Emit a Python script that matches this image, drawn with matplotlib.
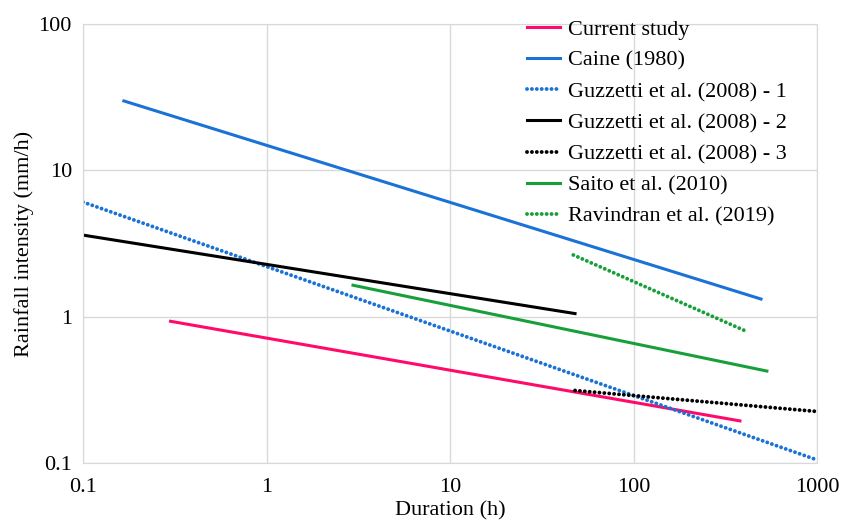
import matplotlib.pyplot as plt
from matplotlib.ticker import FixedLocator, FixedFormatter

# endpoints (duration h, intensity mm/h) of each threshold line
current_d = [0.3, 380]
current_i = [0.93, 0.194]
caine_d = [0.167, 495]
caine_i = [29.8, 1.32]
guz1_d = [0.1, 1000]
guz1_i = [6.07, 0.105]
guz2_d = [0.1, 48]
guz2_i = [3.61, 1.05]
guz3_d = [48, 1000]
guz3_i = [0.313, 0.225]
saito_d = [2.96, 533]
saito_i = [1.64, 0.425]
ravi_d = [47, 421]
ravi_i = [2.64, 0.785]

labels = ["Current study", "Caine (1980)", "Guzzetti et al. (2008) - 1",
          "Guzzetti et al. (2008) - 2", "Guzzetti et al. (2008) - 3",
          "Saito et al. (2010)", "Ravindran et al. (2019)"]
x_ticks = [0.1, 1, 10, 100, 1000]
x_labels = ["0.1", "1", "10", "100", "1000"]
y_ticks = [0.1, 1, 10, 100]
y_labels = ["0.1", "1", "10", "100"]

plt.rcParams["font.family"] = ["Liberation Serif", "DejaVu Serif"]
fs = 16

pink = "#FF0A6A"
blue = "#1A72D6"
green = "#17A03A"
dot = (0, (0.01, 1.25))

fig = plt.figure(figsize=(8.41, 5.23), dpi=100)
ax = fig.add_axes([0.0987, 0.1147, 0.8728, 0.8394])

lw = 2.2
ax.plot(current_d, current_i, color=pink, lw=lw, label=labels[0])
ax.plot(caine_d, caine_i, color=blue, lw=lw, label=labels[1])
ax.plot(guz1_d, guz1_i, color=blue, lw=2.8, ls=dot, dash_capstyle="round", label=labels[2])
ax.plot(guz2_d, guz2_i, color="black", lw=lw, label=labels[3])
ax.plot(guz3_d, guz3_i, color="black", lw=2.8, ls=dot, dash_capstyle="round", label=labels[4])
ax.plot(saito_d, saito_i, color=green, lw=lw, label=labels[5])
ax.plot(ravi_d, ravi_i, color=green, lw=2.8, ls=dot, dash_capstyle="round", label=labels[6])

ax.set_xscale("log")
ax.set_yscale("log")
ax.set_xlim(0.1, 1000)
ax.set_ylim(0.1, 100)
ax.xaxis.set_major_locator(FixedLocator(x_ticks))
ax.xaxis.set_major_formatter(FixedFormatter(x_labels))
ax.yaxis.set_major_locator(FixedLocator(y_ticks))
ax.yaxis.set_major_formatter(FixedFormatter(y_labels))
ax.minorticks_off()
ax.tick_params(axis="both", length=0, labelsize=fs)
ax.tick_params(axis="x", pad=11)
ax.tick_params(axis="y", pad=8)
ax.grid(True, color="#D9D9D9", lw=1)
ax.set_axisbelow(True)
for s in ax.spines.values():
    s.set_color("#D9D9D9")

ax.set_xlabel("Duration (h)", fontsize=fs, labelpad=3)
ax.set_ylabel("Rainfall intensity (mm/h)", fontsize=fs, labelpad=3)

fig.legend(loc="upper left", bbox_to_anchor=(527 / 841, 1 - 19 / 523),
           frameon=False, fontsize=fs, handlelength=1.5, handletextpad=0.35,
           labelspacing=0.48, borderpad=0, borderaxespad=0)

fig.savefig("out.png", dpi=100)
